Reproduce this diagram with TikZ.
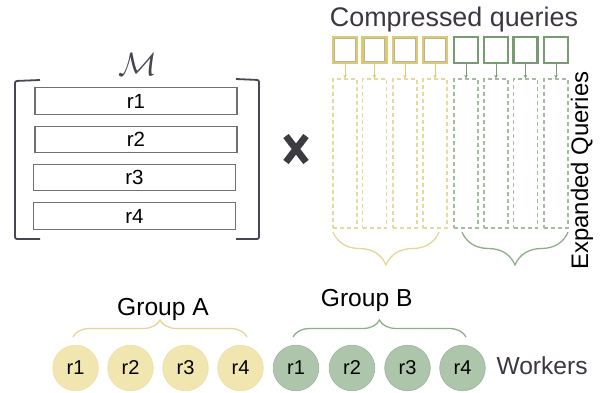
\documentclass[tikz,border=0pt]{standalone}
\usepackage{fontspec}
\setmainfont{Liberation Sans}
\usetikzlibrary{decorations.pathreplacing,arrows.meta,calc}
\definecolor{txtdark}{HTML}{3C3642}
\definecolor{brk}{HTML}{4A4550}
\definecolor{rowgray}{HTML}{707070}
\definecolor{ysq}{HTML}{DCCA70}
\definecolor{ysqin}{HTML}{B8B2A0}
\definecolor{ydash}{HTML}{E6D99C}
\definecolor{ybr}{HTML}{E3D698}
\definecolor{yfill}{HTML}{F1E6B0}
\definecolor{gsq}{HTML}{789B73}
\definecolor{gdash}{HTML}{A3BC9F}
\definecolor{gbr}{HTML}{8EAE8A}
\definecolor{gfill}{HTML}{ADC6AB}
\definecolor{xmark}{HTML}{3C3C40}
\begin{document}
\begin{tikzpicture}[x=1pt,y=-1pt,
  rowbox/.style={draw=rowgray, line width=1.2, minimum width=202, minimum height=26.5, inner sep=0, font=\fontsize{20.5}{22}\selectfont},
  csq/.style={minimum width=24, minimum height=26, inner sep=0, line width=2.2},
  csqY/.style={csq, draw=ysq},
  csqG/.style={csq, draw=gsq},
  csqin/.style={minimum width=20.6, minimum height=22.6, inner sep=0, draw=ysqin, line width=0.7},
  esq/.style={minimum width=24, minimum height=149, inner sep=0, dash pattern=on 4pt off 3pt, line width=1.4},
  esqY/.style={esq, draw=ydash},
  esqG/.style={esq, draw=gdash},
  qarr/.style={line width=0.9, -{Stealth[length=3.5pt,width=3.5pt]}},
  wk/.style={circle, minimum size=45.6, inner sep=0, line width=0.6, font=\fontsize{20}{22}\selectfont},
  wkY/.style={wk, fill=yfill, draw=yfill!85!black!20!yfill},
  wkG/.style={wk, fill=gfill, draw=gfill!90!black},
  bigtxt/.style={font=\fontsize{24.6}{28}\selectfont},
  brc/.style={decorate, line width=1.3}
]
\useasboundingbox (0,0) rectangle (608,392);

% ---- Matrix M ----
\node[font=\fontsize{24}{26}\selectfont, text=brk, scale=1.3, transform shape] (M) at (137.5,64) {$\mathcal{M}$};
\node[rowbox] (r1) at (136,101) {r1};
\node[rowbox] (r2) at (136,139.5) {r2};
\node[rowbox] (r3) at (134.5,177.5) {r3};
\node[rowbox] (r4) at (134.5,216) {r4};
\draw[brk, line width=1.8, rounded corners=2] (40,80) -- (15,81) -- (15,239) -- (40,239);
\draw[brk, line width=1.8, rounded corners=2] (236,79) -- (259,80) -- (259,239) -- (236,239);

% ---- times ----
\coordinate (xc) at (296,149);
\draw[xmark, line width=6.8] ($(xc)+(-10,-13)$) -- ($(xc)+(10,13)$);
\draw[xmark, line width=6.8] ($(xc)+(10,-13)$) -- ($(xc)+(-10,13)$);

% ---- Compressed / expanded queries ----
\node[font=\fontsize{26.9}{30}\selectfont, text=txtdark, anchor=base] (ctitle) at (454,26) {Compressed queries};
\foreach \i/\cx in {1/345,2/374.5,3/405,4/435}{
  \node[csqY] (c\i) at (\cx,50) {};
  \node[csqin] at (c\i) {};
  \node[esqY] (e\i) at (\cx,153.5) {};
  \draw[qarr, ysq] (c\i.south) -- (e\i.north);
}
\foreach \i/\cx in {5/466,6/496,7/525.5,8/556}{
  \node[csqG] (c\i) at (\cx,50) {};
  \node[esqG] (e\i) at (\cx,153.5) {};
  \draw[qarr, gsq] (c\i.south) -- (e\i.north);
}
\node[font=\fontsize{23.9}{26}\selectfont, rotate=90] (eq) at (582,170.5) {Expanded Queries};

\draw[brc, ybr, decoration={brace, amplitude=33, mirror}] (333,232) -- (439,232);
\draw[brc, gbr, decoration={brace, amplitude=33, mirror}] (462,232) -- (568,232);

% ---- Workers ----
\foreach \i/\cx in {1/75.5,2/130.5,3/185.5,4/240.5}{
  \node[wkY] (wa\i) at (\cx,368) {r\i};
}
\foreach \i/\cx in {1/296,2/352,3/407.5,4/462.5}{
  \node[wkG] (wb\i) at (\cx,368) {r\i};
}
\node[bigtxt, text=txtdark, anchor=base west] (workers) at (493,374) {Workers};

\draw[brc, ybr, decoration={brace, amplitude=17}] (73,337) -- (247,337);
\draw[brc, gbr, decoration={brace, amplitude=17}] (293,337) -- (466,337);
\node[bigtxt, anchor=base] (ga) at (163,315.7) {Group A};
\node[bigtxt, anchor=base] (gb) at (366.7,306.7) {Group B};
\end{tikzpicture}
\end{document}
